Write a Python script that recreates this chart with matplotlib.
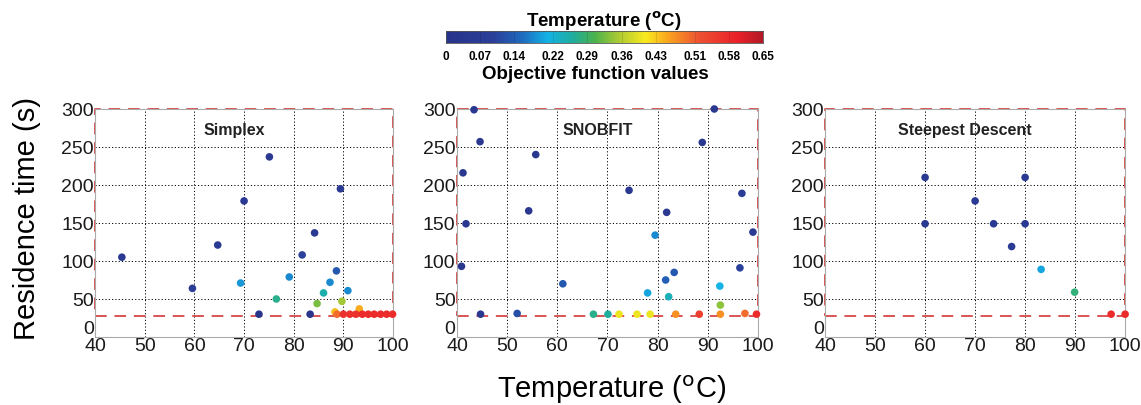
import numpy as np
import matplotlib
matplotlib.use("Agg")
import matplotlib.pyplot as plt
from matplotlib.colors import LinearSegmentedColormap, Normalize

plt.rcParams['font.family'] = ['Liberation Sans', 'DejaVu Sans']

# ---------------- data ----------------
simplex_T = [45.4, 59.6, 64.7, 70.0, 69.3, 75.1, 73.0, 76.5, 79.1, 81.7, 84.2, 83.3, 84.7, 86.0,
             87.3, 88.6, 89.4, 89.7, 90.9, 88.3, 93.2,
             88.7, 90.0, 91.3, 92.5, 93.8, 95.0, 96.2, 97.5, 98.7, 99.9]
simplex_t = [105, 64, 121, 179, 71, 237, 30, 50, 79, 108, 137, 30, 44, 58,
             72, 87, 195, 47, 61, 33, 37,
             30, 30, 30, 30, 30, 30, 30, 30, 30, 30]
simplex_f = [0.05, 0.08, 0.06, 0.05, 0.19, 0.05, 0.01, 0.27, 0.18, 0.10, 0.05, 0.01, 0.33, 0.25,
             0.18, 0.13, 0.05, 0.35, 0.18, 0.44, 0.45,
             0.50, 0.57, 0.57, 0.57, 0.58, 0.58, 0.58, 0.58, 0.58, 0.58]

snob_T = [43.4, 41.2, 41.8, 40.9, 44.6, 44.7, 54.3, 55.7, 52.0, 61.1, 67.2, 70.1, 72.3, 75.9,
          78.5, 74.3, 78.0, 79.5, 81.6, 81.8, 82.2, 83.3, 83.6, 88.3, 88.9, 91.3, 92.4, 92.5,
          92.5, 96.4, 96.8, 97.4, 99.0, 99.7]
snob_t = [299, 216, 149, 93, 257, 30, 166, 240, 31, 70, 30, 30, 30, 30,
          30, 193, 58, 134, 75, 164, 53, 85, 30, 30, 256, 300, 67, 42,
          30, 91, 189, 31, 138, 30]
snob_f = [0.04, 0.04, 0.04, 0.04, 0.04, 0.04, 0.04, 0.04, 0.12, 0.13, 0.27, 0.26, 0.40, 0.40,
          0.40, 0.04, 0.20, 0.18, 0.14, 0.04, 0.24, 0.13, 0.47, 0.55, 0.04, 0.04, 0.21, 0.34,
          0.47, 0.10, 0.08, 0.50, 0.05, 0.58]

sd_T = [60, 60, 70, 73.7, 77.3, 80, 80, 83.2, 89.9, 97.2, 100]
sd_t = [210, 149, 179, 149, 119, 210, 149, 89, 59, 30, 30]
sd_f = [0.05, 0.05, 0.05, 0.05, 0.06, 0.05, 0.05, 0.20, 0.28, 0.58, 0.58]

panel_titles = ["Simplex", "SNOBFIT", "Steepest Descent"]
cbar_ticks = [0, 0.07, 0.14, 0.22, 0.29, 0.36, 0.43, 0.51, 0.58, 0.65]
x_ticks = [40, 50, 60, 70, 80, 90, 100]
y_ticks = [0, 50, 100, 150, 200, 250, 300]
bound_T = [40, 100]
bound_t = [28, 300]

# ---------------- style ----------------
cmap = LinearSegmentedColormap.from_list("mjet", [
    (0.00, (0.16, 0.20, 0.54)),
    (0.15, (0.17, 0.25, 0.60)),
    (0.24, (0.12, 0.42, 0.75)),
    (0.32, (0.08, 0.70, 0.90)),
    (0.40, (0.12, 0.68, 0.62)),
    (0.47, (0.30, 0.70, 0.30)),
    (0.55, (0.70, 0.80, 0.20)),
    (0.63, (0.98, 0.92, 0.12)),
    (0.70, (0.98, 0.65, 0.12)),
    (0.80, (0.93, 0.32, 0.20)),
    (0.92, (0.92, 0.13, 0.16)),
    (1.00, (0.70, 0.10, 0.15)),
])
norm = Normalize(vmin=0, vmax=0.65)

fig = plt.figure(figsize=(11.41, 4.06), dpi=100)

lefts = [0.0833, 0.4005, 0.7231]
widths = [0.2612, 0.2638, 0.2630]
bottom, height = 0.1675, 0.5616

datasets = [(simplex_T, simplex_t, simplex_f),
            (snob_T, snob_t, snob_f),
            (sd_T, sd_t, sd_f)]

red = (0.86, 0.33, 0.33)
for i, (T, t, f) in enumerate(datasets):
    ax = fig.add_axes([lefts[i], bottom, widths[i], height])
    ax.set_xlim(40, 100)
    ax.set_ylim(0, 300)
    ax.set_xticks(x_ticks)
    ax.set_yticks(y_ticks)
    ax.tick_params(length=0, labelsize=14)
    ax.tick_params(axis='x', pad=0)
    ax.tick_params(axis='y', pad=1)
    for lab in ax.get_xticklabels() + ax.get_yticklabels():
        lab.set_color('#1a1a1a')
    ax.get_yticklabels()[0].set_verticalalignment('bottom')
    for s in ax.spines.values():
        s.set_color('#aaaaaa')
        s.set_linewidth(0.8)
    ax.grid(True, color='black', linestyle=(0, (1.2, 2.2)), linewidth=0.7)
    ax.set_axisbelow(True)
    # boundary rectangle
    x0, x1 = bound_T
    y0, y1 = bound_t
    ax.plot([x0, x1, x1, x0, x0], [y0, y0, y1, y1, y0], color=red,
            linestyle=(0, (6, 4)), linewidth=1.4, clip_on=False, zorder=2)
    ax.scatter(T, t, c=f, cmap=cmap, norm=norm, s=30, edgecolors='none',
               zorder=3, clip_on=False)
    ax.text(68, 273, panel_titles[i], ha='center', va='center',
            fontsize=11.5, fontweight='bold', color='#222222')

# colorbar
cax = fig.add_axes([446 / 1141, 1 - 44 / 406, 317 / 1141, 12 / 406])
grad = np.linspace(0, 0.65, 512).reshape(1, -1)
cax.imshow(grad, aspect='auto', cmap=cmap, norm=norm, extent=[0, 0.65, 0, 1])
for tk in cbar_ticks[1:-1]:
    cax.axvline(tk, color=(0, 0, 0, 0.12), linewidth=0.6)
cax.set_xlim(0, 0.65)
cax.set_yticks([])
cax.set_xticks(cbar_ticks)
cax.set_xticklabels([("%g" % v) for v in cbar_ticks], fontsize=8.5, fontweight='bold')
cax.tick_params(length=0, pad=5)
for s in cax.spines.values():
    s.set_color('#555555')
    s.set_linewidth(0.6)

fig.text(604 / 1141, 1 - 21 / 406, r'Temperature ($^{\mathbf{o}}$C)', ha='center',
         va='center', fontsize=13.5, fontweight='bold')
fig.text(595 / 1141, 1 - 75 / 406, 'Objective function values', ha='center',
         va='center', fontsize=13.5, fontweight='bold')

fig.text(27 / 1141, 1 - 218 / 406, 'Residence time (s)', rotation=90, ha='center',
         va='center', fontsize=21)
fig.text(612 / 1141, 1 - 390 / 406, r'Temperature ($^{\rm o}$C)', ha='center',
         va='center', fontsize=21)

fig.savefig('out.png', dpi=100)
